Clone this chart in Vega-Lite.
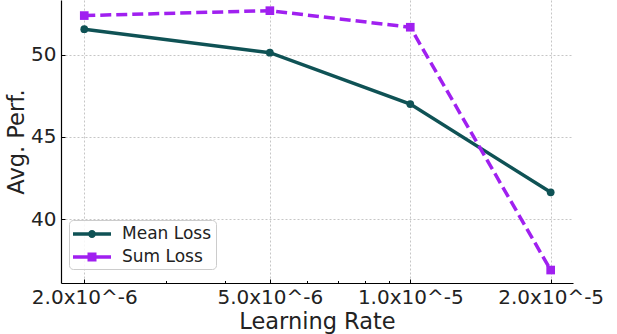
{
  "$schema": "https://vega.github.io/schema/vega-lite/v6.json",
  "autosize": "none",
  "width": 512,
  "height": 283,
  "padding": {"left": 61, "top": 0, "right": 44, "bottom": 51},
  "background": "white",
  "config": {
    "view": {"stroke": null},
    "font": "DejaVu Sans",
    "axis": {"labelFont": "DejaVu Sans", "titleFont": "DejaVu Sans", "labelColor": "#222222", "titleColor": "#222222", "titleFontWeight": "normal", "domainColor": "#000000", "tickColor": "#000000"}
  },
  "data": {
    "values": [
      {"lr": 2e-6, "perf": 51.57, "series": "Mean Loss"},
      {"lr": 5e-6, "perf": 50.14, "series": "Mean Loss"},
      {"lr": 1e-5, "perf": 47.01, "series": "Mean Loss"},
      {"lr": 2e-5, "perf": 41.63, "series": "Mean Loss"},
      {"lr": 2e-6, "perf": 52.40, "series": "Sum Loss"},
      {"lr": 5e-6, "perf": 52.70, "series": "Sum Loss"},
      {"lr": 1e-5, "perf": 51.69, "series": "Sum Loss"},
      {"lr": 2e-5, "perf": 36.89, "series": "Sum Loss"}
    ]
  },
  "encoding": {
    "x": {
      "field": "lr", "type": "quantitative",
      "scale": {"type": "log", "domain": [1.783e-6, 2.233e-5], "nice": false},
      "axis": {
        "title": "Learning Rate", "titleFontSize": 22.5, "titlePadding": 2,
        "values": [2e-6, 3e-6, 4e-6, 5e-6, 6e-6, 7e-6, 8e-6, 9e-6, 1e-5, 2e-5],
        "labelExpr": "datum.value < 2.5e-6 ? '2.0x10^-6' : (datum.value > 4.5e-6 && datum.value < 5.5e-6) ? '5.0x10^-6' : (datum.value > 9.5e-6 && datum.value < 1.05e-5) ? '1.0x10^-5' : datum.value > 1.5e-5 ? '2.0x10^-5' : ''",
        "labelFontSize": 20, "labelPadding": 8, "labelFlush": false, "labelOverlap": false,
        "tickSize": {"condition": {"test": "datum.value < 2.5e-6 || (datum.value > 4.5e-6 && datum.value < 5.5e-6) || (datum.value > 9.5e-6 && datum.value < 1.05e-5) || datum.value > 1.5e-5", "value": -4}, "value": -2.5},
        "domainWidth": 1.2,
        "grid": true, "gridColor": "#b8b8b8", "gridDash": [2, 2], "gridWidth": 0.8,
        "gridOpacity": {"condition": {"test": "datum.value < 2.5e-6 || (datum.value > 4.5e-6 && datum.value < 5.5e-6) || (datum.value > 9.5e-6 && datum.value < 1.05e-5) || datum.value > 1.5e-5", "value": 1}, "value": 0}
      }
    },
    "y": {
      "field": "perf", "type": "quantitative",
      "scale": {"domain": [36.1, 53.35], "nice": false, "zero": false},
      "axis": {
        "title": "Avg. Perf.", "titleFontSize": 22.5, "titlePadding": 2,
        "values": [40, 45, 50],
        "labelFontSize": 20, "labelPadding": 9,
        "tickSize": -4, "domainWidth": 1.2,
        "grid": true, "gridColor": "#b8b8b8", "gridDash": [2, 2], "gridWidth": 0.8
      }
    }
  },
  "layer": [
    {
      "mark": {"type": "point", "filled": true, "opacity": 0, "size": 400},
      "encoding": {
        "color": {
          "field": "series", "type": "nominal",
          "scale": {"domain": ["Mean Loss", "Sum Loss"], "range": ["#0f5255", "#a020f0"]},
          "legend": {
            "title": null, "orient": "none", "legendX": 8, "legendY": 220,
            "labelFontSize": 17, "labelFont": "DejaVu Sans", "labelColor": "#222222",
            "symbolSize": 400, "symbolOpacity": 1, "symbolStrokeWidth": 0,
            "labelOffset": 29, "rowPadding": 5,
            "padding": 4, "fillColor": "rgba(255,255,255,0.85)", "strokeColor": "#cccccc", "cornerRadius": 4
          }
        },
        "shape": {
          "field": "series", "type": "nominal",
          "scale": {"domain": ["Mean Loss", "Sum Loss"], "range": [
            "M-1,-0.175H2.8V0.175H-1Z M1.3,0A0.4,0.4,0,1,1,0.5,0A0.4,0.4,0,1,1,1.3,0Z",
            "M-1,-0.175H2.8V0.175H-1Z M0.45,-0.45H1.35V0.45H0.45Z"
          ]},
          "legend": null
        }
      }
    },
    {
      "transform": [{"filter": "datum.series === 'Mean Loss'"}],
      "mark": {"type": "line", "strokeWidth": 3.5, "color": "#0f5255"},
      "encoding": {}
    },
    {
      "transform": [{"filter": "datum.series === 'Sum Loss'"}],
      "mark": {"type": "line", "strokeWidth": 3.5, "color": "#a020f0", "strokeDash": [11, 5]},
      "encoding": {}
    },
    {
      "transform": [{"filter": "datum.series === 'Mean Loss'"}],
      "mark": {"type": "point", "shape": "circle", "filled": true, "opacity": 1, "size": 60, "color": "#0f5255"}
    },
    {
      "transform": [{"filter": "datum.series === 'Sum Loss'"}],
      "mark": {"type": "point", "shape": "square", "filled": true, "opacity": 1, "size": 75, "color": "#a020f0"}
    }
  ]
}
